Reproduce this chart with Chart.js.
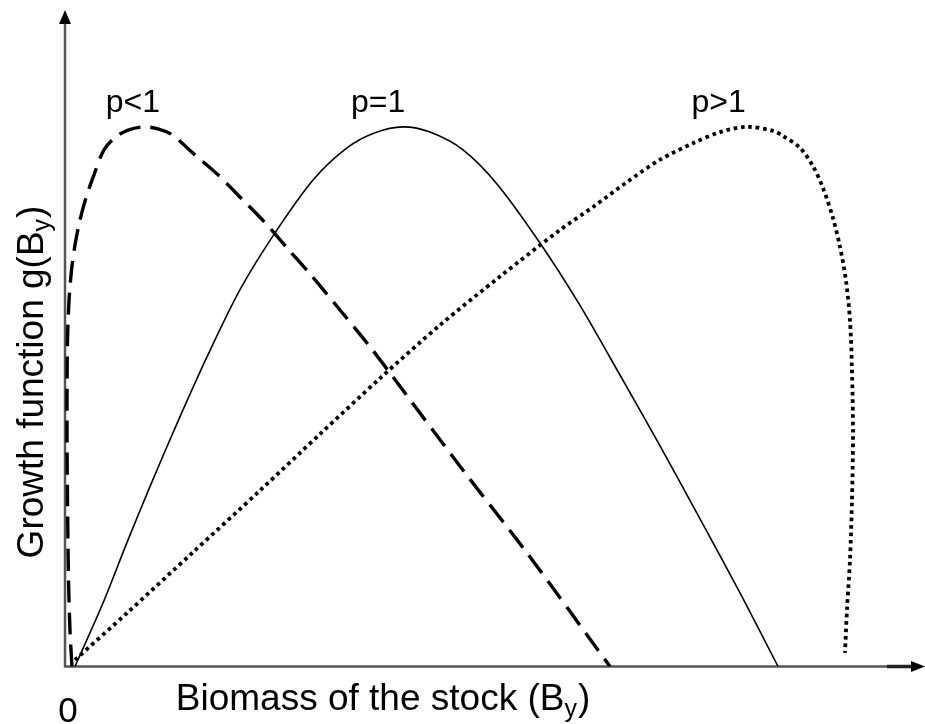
<!DOCTYPE html>
<html>
<head>
<meta charset="utf-8">
<script src="https://cdn.jsdelivr.net/npm/chart.js@4/dist/chart.umd.min.js"></script>
<style>
  html, body { margin: 0; padding: 0; background: #ffffff; }
  #wrap { position: relative; width: 925px; height: 724px; }
</style>
</head>
<body>
<div id="wrap"><canvas id="c" width="925" height="724"></canvas></div>
<script>
// Biomass B (x) and growth g(B) (y), both in relative units 0-100
const pLessB = [0.81, 0.58, 0.41, 0.29, 0.23, 0.29, 0.47, 0.76, 1.16, 1.74, 2.44, 3.37, 4.53, 5.93, 7.33, 9.07, 10.81, 12.44, 14.88, 17.79, 20.58, 23.26, 25.93, 28.49, 31.98, 35.47, 37.79, 46.28, 53.72, 63.37];
const pLessG = [0, 5.5, 13.2, 25.4, 37.6, 49.7, 55.8, 60.4, 64.2, 68.0, 71.4, 74.9, 78.7, 80.7, 81.7, 82.2, 81.9, 81.0, 78.2, 74.9, 71.2, 67.6, 63.6, 59.8, 54.3, 48.7, 44.7, 29.9, 17.3, 0];

const pOneB = [1.16, 4.42, 7.21, 9.88, 13.02, 16.63, 20.35, 24.19, 28.84, 32.79, 36.05, 39.30, 42.44, 46.28, 50.23, 55.23, 59.88, 64.53, 69.19, 73.84, 78.49, 82.91];
const pOneG = [0, 9.67, 18.9, 27.4, 37.0, 47.5, 57.4, 65.6, 74.1, 79.0, 81.3, 82.2, 81.4, 78.7, 73.5, 64.5, 55.0, 44.4, 33.6, 22.5, 11.2, 0];

const pMoreB = [1.16, 7.21, 14.88, 22.67, 29.65, 36.63, 43.60, 50.58, 57.56, 61.40, 65.35, 69.19, 73.02, 76.16, 79.30, 82.33, 83.49, 85.47, 86.98, 88.14, 89.30, 90.12, 90.81, 91.28, 91.51, 91.63, 91.51, 91.28, 90.93, 90.70];
const pMoreG = [1.0, 8.15, 17.4, 26.8, 35.4, 43.9, 52.0, 59.4, 66.5, 70.0, 73.8, 77.2, 79.7, 81.4, 82.2, 81.6, 80.8, 79.0, 76.2, 72.9, 68.3, 63.9, 58.8, 52.7, 45.1, 35.6, 25.4, 16.3, 8.7, 2.1];

// Curve labels and their anchor positions (data units)
const curveLabels = ["p<1", "p=1", "p>1"];
const labelX = [7.9, 36.4, 76.0];
const labelY = [84.5, 84.5, 84.5];

const xTitle = "Biomass of the stock (B";
const yTitle = "Growth function g(B";
const subText = "y";
const originLabel = "0";

function pts(xs, ys) { return xs.map((x, i) => ({ x: x, y: ys[i] })); }

const FONT = '"Liberation Sans", Arial, Helvetica, sans-serif';

const decor = {
  id: 'decor',
  beforeDatasetsDraw(chart) {
    const ctx = chart.ctx;
    const xs = chart.scales.x, ys = chart.scales.y;
    const ox = xs.getPixelForValue(0), oy = ys.getPixelForValue(0);
    const xEnd = xs.getPixelForValue(100), yEnd = ys.getPixelForValue(100);
    ctx.save();
    ctx.strokeStyle = '#555555';
    ctx.lineWidth = 2.5;
    ctx.beginPath();
    ctx.moveTo(ox - 1, oy); ctx.lineTo(xEnd - 10, oy);
    ctx.moveTo(ox, oy + 1); ctx.lineTo(ox, yEnd + 10);
    ctx.stroke();
    ctx.strokeStyle = '#222';
    ctx.lineWidth = 3.5;
    ctx.beginPath();
    ctx.moveTo(xEnd - 38, oy); ctx.lineTo(xEnd - 10, oy);
    ctx.stroke();
    ctx.fillStyle = '#000';
    ctx.beginPath();
    ctx.moveTo(xEnd, oy); ctx.lineTo(xEnd - 14, oy - 5.5); ctx.lineTo(xEnd - 14, oy + 5.5); ctx.closePath();
    ctx.fill();
    ctx.beginPath();
    ctx.moveTo(ox, yEnd); ctx.lineTo(ox - 6, yEnd + 14); ctx.lineTo(ox + 6, yEnd + 14); ctx.closePath();
    ctx.fill();
    ctx.restore();
  },
  afterDatasetsDraw(chart) {
    const ctx = chart.ctx;
    const xs = chart.scales.x, ys = chart.scales.y;
    ctx.save();
    ctx.fillStyle = '#000';
    ctx.textBaseline = 'alphabetic';
    ctx.font = '32px ' + FONT;
    ctx.textAlign = 'center';
    curveLabels.forEach((t, i) => {
      ctx.fillText(t, xs.getPixelForValue(labelX[i]), ys.getPixelForValue(labelY[i]));
    });
    ctx.font = '35px ' + FONT;
    ctx.fillText(originLabel, xs.getPixelForValue(0) + 3, 722);
    const big = '37px ' + FONT, small = '25px ' + FONT;
    ctx.textAlign = 'left';
    function titleWithSub(main, cx, by) {
      ctx.font = big; const w1 = ctx.measureText(main).width;
      ctx.font = small; const w2 = ctx.measureText(subText).width;
      ctx.font = big; const w3 = ctx.measureText(')').width;
      const sx = cx - (w1 + w2 + w3 + 1) / 2;
      ctx.font = big; ctx.fillText(main, sx, by);
      ctx.font = small; ctx.fillText(subText, sx + w1, by + 7);
      ctx.font = big; ctx.fillText(')', sx + w1 + w2 + 1, by);
    }
    titleWithSub(xTitle, 383, 710);
    ctx.translate(43, 382);
    ctx.rotate(-Math.PI / 2);
    titleWithSub(yTitle, 0, 0);
    ctx.restore();
  }
};

new Chart(document.getElementById('c'), {
  type: 'scatter',
  data: {
    datasets: [
      { label: 'p<1', data: pts(pLessB, pLessG), showLine: true, borderColor: '#000', borderWidth: 3.4, borderDash: [22, 10], pointRadius: 0, tension: 0.3, fill: false },
      { label: 'p=1', data: pts(pOneB, pOneG), showLine: true, borderColor: '#000', borderWidth: 1.6, pointRadius: 0, tension: 0.3, fill: false },
      { label: 'p>1', data: pts(pMoreB, pMoreG), showLine: true, borderColor: '#000', borderWidth: 3.8, borderDash: [3.6, 3.8], pointRadius: 0, tension: 0.3, fill: false }
    ]
  },
  options: {
    responsive: false,
    animation: false,
    layout: { padding: { left: 65, top: 10, right: 0, bottom: 57.5 } },
    plugins: { legend: { display: false }, tooltip: { enabled: false }, title: { display: false } },
    scales: {
      x: { type: 'linear', min: 0, max: 100, display: false },
      y: { type: 'linear', min: 0, max: 100, display: false }
    }
  },
  plugins: [decor]
});
</script>
</body>
</html>
